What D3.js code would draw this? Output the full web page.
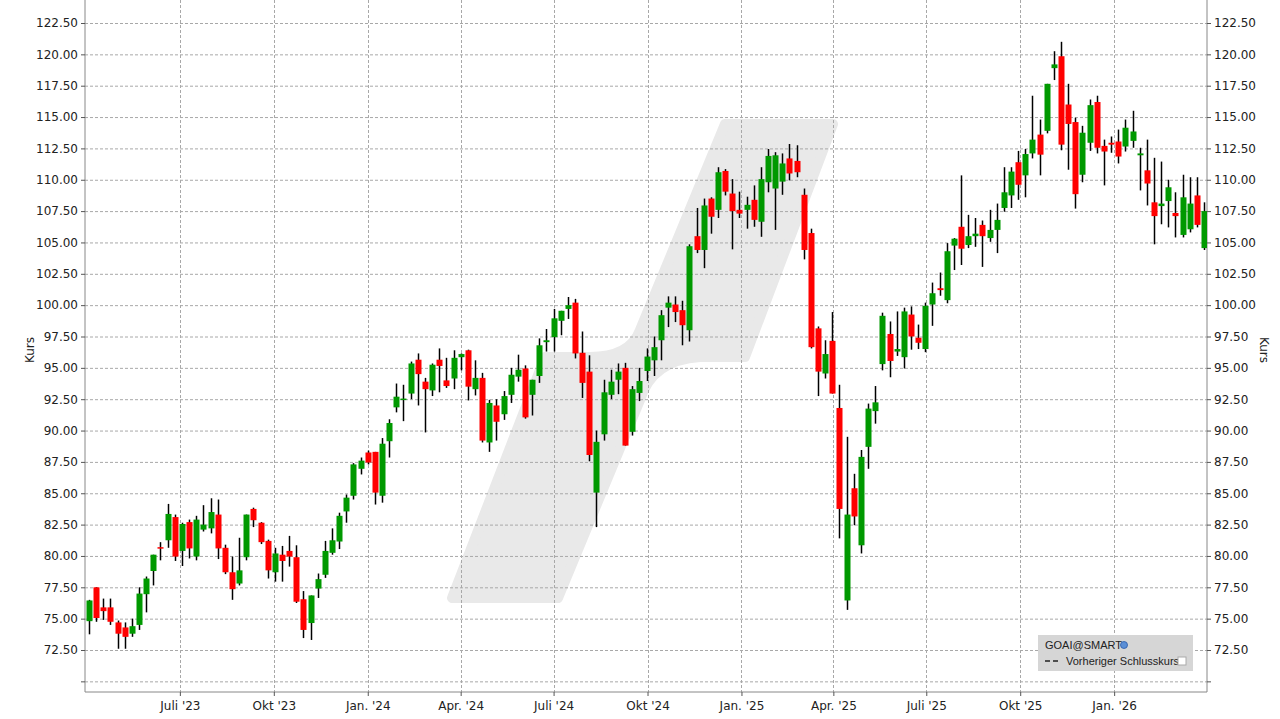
<!DOCTYPE html>
<html><head><meta charset="utf-8">
<script src="https://cdn.jsdelivr.net/npm/d3@7"></script>
<style>body{margin:0;background:#fff}svg{display:block;font-family:"DejaVu Sans",sans-serif}</style>
</head><body><svg id="c" width="1280" height="719"></svg>
<script>
const opens=[74.8,77.5,75.9,75.9,74.7,74.3,73.8,74.5,76.95,78.8,80.7,81.25,83.1,80.4,82.7,79.95,82.1,82.2,83.3,80.65,78.7,77.8,79.9,83.75,82.65,81.2,78.7,80.1,80.4,79.9,76.55,74.65,77.4,78.5,80.25,81.15,83.55,84.8,86.95,88.25,88.3,84.8,89.15,91.85,92.45,92.95,95.65,93.9,93.2,95.65,94.0,94.15,95.85,96.4,93.3,94.2,89.05,92.0,91.3,92.85,94.3,94.95,92.85,94.35,97.05,97.45,98.75,99.7,100.2,96.2,94.7,85.05,89.7,92.85,94.05,95.0,89.9,93.0,94.75,95.6,97.2,99.8,100.05,99.6,98.0,105.5,104.4,108.5,107.6,110.7,108.9,107.6,107.6,108.4,106.65,109.8,109.3,109.85,111.7,111.5,108.8,105.75,98.15,94.55,97.15,91.8,76.45,85.4,80.85,88.7,91.55,95.3,97.7,96.3,95.85,99.25,97.4,96.5,100.05,101.35,100.4,104.75,106.25,104.8,105.5,106.4,105.35,106.0,107.75,108.75,111.4,110.35,112.1,113.6,113.9,118.9,119.85,116.0,114.6,110.4,112.95,116.2,112.7,112.95,113.05,112.65,113.1,111.95,110.75,108.2,107.9,108.3,107.35,105.6,106.05,108.75,104.55];
const highs=[76.5,77.5,76.6,76.6,74.85,74.7,75.0,77.5,78.36,80.1,81.1,84.15,83.3,82.65,82.9,83.2,84.05,84.6,84.5,80.9,79.95,81.45,83.3,83.85,82.7,81.3,80.65,80.8,81.6,80.85,77.2,76.85,78.6,81.2,82.2,83.45,84.9,87.4,87.85,88.4,88.3,89.4,90.9,93.75,93.65,95.5,96.15,94.2,95.35,96.55,95.8,96.4,96.15,96.45,95.6,94.6,92.45,92.5,93.15,95.0,96.05,95.2,94.05,97.35,98.1,99.7,99.55,100.65,100.5,97.9,96.0,90.0,94.05,94.85,95.35,95.4,93.55,95.0,96.55,97.5,99.6,100.7,100.7,100.35,104.85,107.75,108.5,108.6,111.0,110.85,110.05,109.05,108.65,109.55,111.0,112.45,112.2,112.1,112.85,112.75,109.3,106.1,98.3,97.2,99.45,93.65,89.5,86.55,88.45,92.15,93.55,99.4,98.7,99.5,99.8,99.9,98.45,100.2,101.8,102.6,104.95,105.35,110.35,107.2,106.95,106.75,107.6,108.1,111.0,111.0,112.3,112.45,116.7,114.8,117.65,120.25,121.0,117.65,114.95,114.3,116.4,116.7,113.2,113.45,114.0,114.8,115.5,112.55,113.2,111.75,111.45,110.0,109.0,110.4,110.2,110.2,108.2];
const lows=[73.75,74.75,74.9,74.5,72.6,72.6,73.55,74.1,75.5,77.65,79.65,80.65,79.6,79.2,79.8,79.65,81.95,81.8,79.75,78.55,76.5,77.65,79.65,82.3,80.95,78.2,77.95,77.95,79.15,76.25,73.45,73.3,76.65,78.25,80.1,80.55,82.65,84.5,86.5,87.3,84.1,84.25,87.85,91.45,90.75,92.5,92.0,89.85,92.75,93.05,93.4,93.3,94.8,92.4,92.8,89.05,88.3,89.2,90.85,92.2,93.9,90.95,91.2,93.8,96.3,96.3,97.6,98.9,95.75,92.6,87.55,82.3,89.2,92.5,92.9,88.8,89.6,92.35,93.95,94.35,95.6,98.25,98.65,96.8,97.1,104.15,102.95,105.7,106.95,108.75,104.45,106.95,106.1,106.25,105.45,109.0,106.0,108.8,109.95,110.2,103.65,96.55,92.75,94.15,92.95,81.4,75.7,82.45,80.2,86.95,90.55,94.8,94.25,95.95,94.95,96.45,96.5,96.25,98.35,100.75,100.15,102.8,103.2,104.55,104.65,103.05,105.05,104.15,107.45,107.75,108.4,108.6,111.7,110.35,113.7,117.95,112.35,110.8,107.7,109.8,112.3,112.1,109.55,112.15,111.3,112.25,112.55,109.15,107.95,104.85,106.45,106.2,105.4,105.4,105.8,106.2,104.4];
const closes=[76.45,75.05,75.6,74.75,73.8,73.55,74.4,77.0,78.2,80.1,80.6,83.35,79.95,82.55,80.6,82.9,82.5,83.5,80.6,78.7,77.35,78.85,83.3,82.85,81.1,78.85,80.2,79.6,79.95,76.35,74.1,76.85,78.15,80.4,81.25,83.2,84.65,87.3,87.6,87.45,85.05,88.95,90.6,92.7,92.55,95.35,94.5,93.3,95.25,95.15,93.55,95.8,96.1,93.5,94.2,89.2,92.2,90.7,92.75,94.45,94.85,91.05,94.05,96.8,97.2,98.95,99.55,100.0,96.15,93.8,88.05,89.1,93.05,93.9,94.7,88.8,93.3,93.95,95.9,96.65,99.2,100.2,99.45,98.4,104.7,104.4,107.95,107.05,110.6,109.05,107.5,107.3,108.0,106.8,110.05,111.9,111.95,111.3,110.5,110.6,104.4,96.65,94.7,96.1,92.95,83.75,83.3,83.15,87.9,91.75,92.25,99.15,95.55,96.5,99.5,97.5,97.0,99.95,100.95,101.2,104.3,105.3,104.5,105.5,105.7,105.5,106.0,106.8,109.0,110.65,109.6,112.05,113.2,112.0,117.65,119.2,112.8,114.45,108.85,113.75,115.95,112.55,112.25,112.8,111.85,114.15,113.85,112.1,109.7,107.1,108.1,109.4,107.1,108.6,108.1,106.4,107.5];
const startDate=new Date(2023,3,3);
const dates=opens.map((_,i)=>d3.timeDay.offset(startDate,7*i));
const tickDates=[new Date(2023,6,1),new Date(2023,9,1),new Date(2024,0,1),new Date(2024,3,1),new Date(2024,6,1),new Date(2024,9,1),new Date(2025,0,1),new Date(2025,3,1),new Date(2025,6,1),new Date(2025,9,1),new Date(2026,0,1)];
const tickLabels=["Juli '23","Okt '23","Jan. '24","Apr. '24","Juli '24","Okt '24","Jan. '25","Apr. '25","Juli '25","Okt '25","Jan. '26"];
const yTicks=d3.range(70,122.51,2.5);

const svg=d3.select("#c");
const L=85,R=1207,B=692,T=0;
const x=d3.scaleTime().domain([dates[0],dates[dates.length-1]]).range([89,1204]);
const y=d3.scaleLinear().domain([72.5,122.5]).range([650,23]);
svg.append("clipPath").attr("id","pc").append("rect").attr("x",L).attr("y",T).attr("width",R-L).attr("height",B-T);
svg.append("path").attr("d","M452,598 L558,598 L640,400 Q652,360 700,357 L745,357 L833,124 L725,124 L640,330 Q630,357 590,357 L545,357 Z")
  .attr("fill","#e9e9e9").attr("stroke","#e9e9e9").attr("stroke-width",10).attr("stroke-linejoin","round");
const g=svg.append("g");
g.selectAll("line.h").data(yTicks).join("line").attr("x1",L).attr("x2",R).attr("y1",d=>y(d)+0.5).attr("y2",d=>y(d)+0.5)
  .attr("stroke","#a8a8a8").attr("stroke-dasharray","3,2");
g.selectAll("line.v").data(tickDates).join("line").attr("y1",T).attr("y2",B).attr("x1",d=>Math.round(x(d))+0.5).attr("x2",d=>Math.round(x(d))+0.5)
  .attr("stroke","#a8a8a8").attr("stroke-dasharray","3,2");
const yl=d3.axisLeft(y).tickValues(yTicks).tickSize(4).tickFormat(d=>d<72.4?"":d3.format(".2f")(d));
const yr=d3.axisRight(y).tickValues(yTicks).tickSize(4).tickFormat(d=>d<72.4?"":d3.format(".2f")(d));
const xa=d3.axisBottom(x).tickValues(tickDates).tickSize(4).tickFormat((d,i)=>tickLabels[i]);
const ag1=svg.append("g").attr("transform",`translate(${L},0)`).call(yl);
const ag2=svg.append("g").attr("transform",`translate(${R},0)`).call(yr);
const ag3=svg.append("g").attr("transform",`translate(0,${B})`).call(xa);
[ag1,ag2,ag3].forEach(a=>{a.select(".domain").attr("stroke","#888");a.selectAll(".tick line").attr("stroke","#555");a.selectAll("text").attr("font-size",12).attr("fill","#222").attr("font-family","DejaVu Sans, sans-serif");});
ag1.select(".domain").attr("d",`M0,${T}V${B}`);ag2.select(".domain").attr("d",`M0,${T}V${B}`);ag3.select(".domain").attr("d",`M${L},0H${R}`);
ag3.selectAll("text").attr("dy","0.9em");
svg.append("text").attr("transform","translate(34,350) rotate(-90)").attr("text-anchor","middle").attr("font-size",12).attr("fill","#222").text("Kurs");
svg.append("text").attr("transform","translate(1260,350) rotate(90)").attr("text-anchor","middle").attr("font-size",12).attr("fill","#222").text("Kurs");
const data=opens.map((o,i)=>({d:dates[i],o,h:highs[i],l:lows[i],c:closes[i]}));
const cg=svg.append("g").attr("clip-path","url(#pc)");
cg.selectAll("line.w").data(data).join("line").attr("x1",d=>Math.round(x(d.d))+0.5).attr("x2",d=>Math.round(x(d.d))+0.5)
  .attr("y1",d=>y(d.h)).attr("y2",d=>y(d.l)).attr("stroke","#000").attr("stroke-width",1.5);
cg.selectAll("rect.b").data(data).join("rect").attr("x",d=>Math.round(x(d.d))-2.5).attr("width",6)
  .attr("y",d=>y(Math.max(d.o,d.c))).attr("height",d=>Math.max(1.5,Math.abs(y(d.o)-y(d.c))))
  .attr("fill",d=>d.c>=d.o?"#009900":"#ff0000");
const lg=svg.append("g").attr("font-family","Liberation Sans, Arial, sans-serif");
lg.append("rect").attr("x",1038).attr("y",635).attr("width",155).attr("height",36).attr("fill","#d6d6d6");
lg.append("text").attr("x",1045).attr("y",649).attr("font-size",11).attr("fill","#222").text("GOAI@SMART");
lg.append("circle").attr("cx",1124).attr("cy",645).attr("r",3.5).attr("fill","#5b8fd6").attr("stroke","#2a5ba8").attr("stroke-width",0.8);
lg.append("line").attr("x1",1045).attr("x2",1059).attr("y1",661).attr("y2",661).attr("stroke","#222").attr("stroke-width",1.5).attr("stroke-dasharray","5,3");
lg.append("text").attr("x",1066).attr("y",665).attr("font-size",11).attr("fill","#222").text("Vorheriger Schlusskurs");
lg.append("rect").attr("x",1178).attr("y",657).attr("width",8).attr("height",8).attr("fill","#fff").attr("stroke","#aaa");
</script></body></html>
